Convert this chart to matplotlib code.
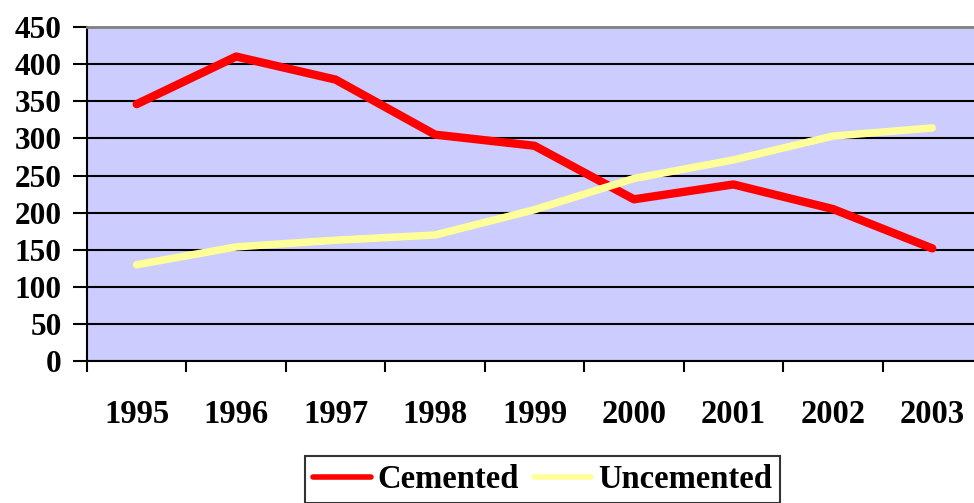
import matplotlib
matplotlib.use("Agg")
import matplotlib.pyplot as plt
import numpy as np

# Data
years = ["1995", "1996", "1997", "1998", "1999", "2000", "2001", "2002", "2003"]
cemented = [346, 410, 379, 305, 290, 218, 238, 205, 152]
uncemented = [130, 154, 163, 170, 204, 246, 271, 303, 314]
y_ticks = [0, 50, 100, 150, 200, 250, 300, 350, 400, 450]

plt.rcParams['font.family'] = ['Liberation Serif', 'DejaVu Serif']
plt.rcParams['font.weight'] = 'bold'

fig = plt.figure(figsize=(9.74, 5.03), dpi=100)
ax = fig.add_axes([0.0893, 0.2815, 0.9189, 0.6652])
ax.set_facecolor('#CCCCFF')

x = np.arange(len(years)) + 0.5
ax.plot(x, cemented, color='#FF0000', lw=6, solid_capstyle='round',
        solid_joinstyle='round', label='Cemented', zorder=3)
ax.plot(x, uncemented, color='#FFFF99', lw=5.4, solid_capstyle='round',
        solid_joinstyle='round', label='Uncemented', zorder=3)

ax.set_xlim(0, len(years))
ax.set_ylim(0, 450)
ax.set_yticks(y_ticks)
ax.set_yticklabels([str(v) for v in y_ticks], fontsize=22.5, fontweight='bold')
ax.yaxis.grid(True, color='black', lw=1.5)
ax.set_axisbelow(True)

ax.set_xticks(np.arange(len(years) + 1))
ax.set_xticklabels([])
ax.set_xticks(x, minor=True)
ax.set_xticklabels(years, minor=True, fontsize=23.5, fontweight='bold')
ax.tick_params(axis='x', which='major', length=8, width=1.5, direction='out')
ax.tick_params(axis='x', which='minor', length=0, pad=27)
ax.tick_params(axis='y', length=10, width=1.5, direction='out', pad=8)

ax.spines['top'].set_color('#808080')
ax.spines['top'].set_linewidth(2)
ax.spines['right'].set_visible(False)
ax.spines['left'].set_linewidth(1.5)
ax.spines['bottom'].set_linewidth(1.5)

leg = fig.legend(loc='upper left', bbox_to_anchor=(305 / 974, 1 - 456 / 503),
                 ncol=2, frameon=True, fancybox=False, fontsize=23.5,
                 handlelength=1.77, handletextpad=0.2, columnspacing=0.45,
                 borderpad=0.25, borderaxespad=0)
leg.get_frame().set_edgecolor('black')
leg.get_frame().set_linewidth(1.5)
for line in leg.get_lines():
    line.set_linewidth(4)

fig.savefig('out.png', dpi=100)
